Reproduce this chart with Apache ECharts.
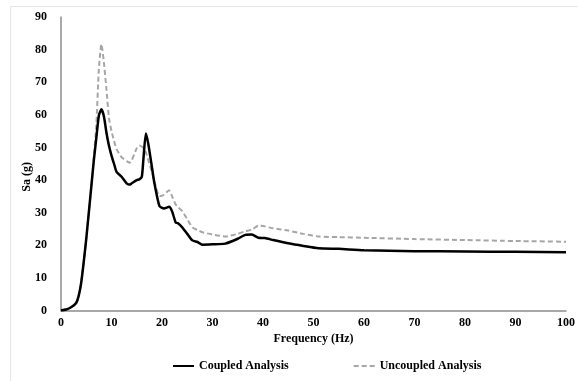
<!DOCTYPE html>
<html><head><meta charset="utf-8">
<script src="https://cdn.jsdelivr.net/npm/echarts@6/dist/echarts.min.js"></script>
<style>html,body{margin:0;padding:0;background:#fff}#c{width:578px;height:381px}</style>
</head><body><div id="c"></div>
<script>
var freq = [0,1,2,3,3.5,4,5,6,6.5,7,7.5,8,8.5,9,9.5,10,10.5,11,12,13,13.6,14,15,15.5,16,16.3,16.8,17.3,18,18.5,19.5,20.4,21.4,22,22.7,23.1,24,25,26,27,28,30,32.5,35,36.5,37.8,39.1,40.4,42,45,48,51,55,60,70,80,90,100];
var coupled = [0,0.3,1,2.3,4.5,8.5,22,38,46,53,59.8,61.7,59.5,54.5,50.5,47.5,45,42.5,41,39,38.6,39,40,40.2,41,46,54.3,51,44,39,32,31.3,31.8,30.4,27,26.8,25.5,23.5,21.5,21,20.2,20.3,20.5,22,23.2,23.3,22.3,22.2,21.6,20.6,19.8,19.1,18.9,18.5,18.2,18.1,18.0,17.9];
var uncoupled = [0,0.3,1,2.3,4.5,8.5,22,38,47,57,74,81.7,76,67.8,59,55,52,49.5,47,45.8,45.3,46,49.8,50.6,50.3,49.8,48.5,46,42.5,39.5,35,35.5,36.9,35,32.5,31.8,30.5,28,25.5,24.7,24,23.3,22.7,23.5,24.3,24.8,26,25.8,25.2,24.5,23.5,22.7,22.5,22.3,21.9,21.6,21.3,21.1];
var xTicks = [0,10,20,30,40,50,60,70,80,90,100];
var yTicks = [0,10,20,30,40,50,60,70,80,90];
var seriesNames = ['Coupled Analysis','Uncoupled Analysis'];
function pairs(v){return freq.map(function(f,i){return [f,v[i]];});}
var font = '"Liberation Serif","Times New Roman",serif';
var chart = echarts.init(document.getElementById('c'));
chart.setOption({
  animation:false,
  backgroundColor:'#fff',
  grid:{left:61,right:8,top:17,bottom:70.5,containLabel:false},
  graphic:[
    {type:'line',shape:{x1:10.5,y1:6,x2:10.5,y2:381},style:{stroke:'#e6e6e6',lineWidth:1}},
    {type:'line',shape:{x1:10,y1:6.5,x2:578,y2:6.5},style:{stroke:'#e6e6e6',lineWidth:1}},
    {type:'text',left:21,top:162,rotation:Math.PI/2,style:{text:'Sa (g)',font:'bold 12px '+font,fill:'#000'}}
  ],
  xAxis:{type:'value',min:0,max:100,interval:10,
    name:'Frequency (Hz)',nameLocation:'middle',nameGap:18,
    nameTextStyle:{fontFamily:font,fontWeight:'bold',fontSize:12,color:'#000'},
    axisLine:{lineStyle:{color:'#8c8c8c',width:1.5}},axisTick:{show:false},splitLine:{show:false},
    axisLabel:{fontFamily:font,fontWeight:'bold',fontSize:12,color:'#000',margin:6,
      formatter:function(v){return xTicks.indexOf(v)>=0?String(v):'';}}},
  yAxis:{type:'value',min:0,max:90,interval:10,
    axisLine:{show:true,lineStyle:{color:'#8c8c8c',width:1.5}},axisTick:{show:false},splitLine:{show:false},
    axisLabel:{fontFamily:font,fontWeight:'bold',fontSize:12,color:'#000',margin:14,
      formatter:function(v){return yTicks.indexOf(v)>=0?String(v):'';}}},
  legend:{left:172,top:360,padding:0,itemWidth:21,itemHeight:10,itemGap:64,
    itemStyle:{opacity:0,borderWidth:0},
    textStyle:{fontFamily:font,fontWeight:'bold',fontSize:12,color:'#000'},
    data:seriesNames},
  series:[
    {name:seriesNames[1],type:'line',data:pairs(uncoupled),showSymbol:false,symbol:'none',smooth:0.2,
      lineStyle:{color:'#a6a6a6',width:2,type:[5,3]},itemStyle:{color:'#a6a6a6'}},
    {name:seriesNames[0],type:'line',data:pairs(coupled),showSymbol:false,symbol:'none',smooth:0.2,
      lineStyle:{color:'#000',width:2.5},itemStyle:{color:'#000'}}
  ]
});
</script></body></html>
